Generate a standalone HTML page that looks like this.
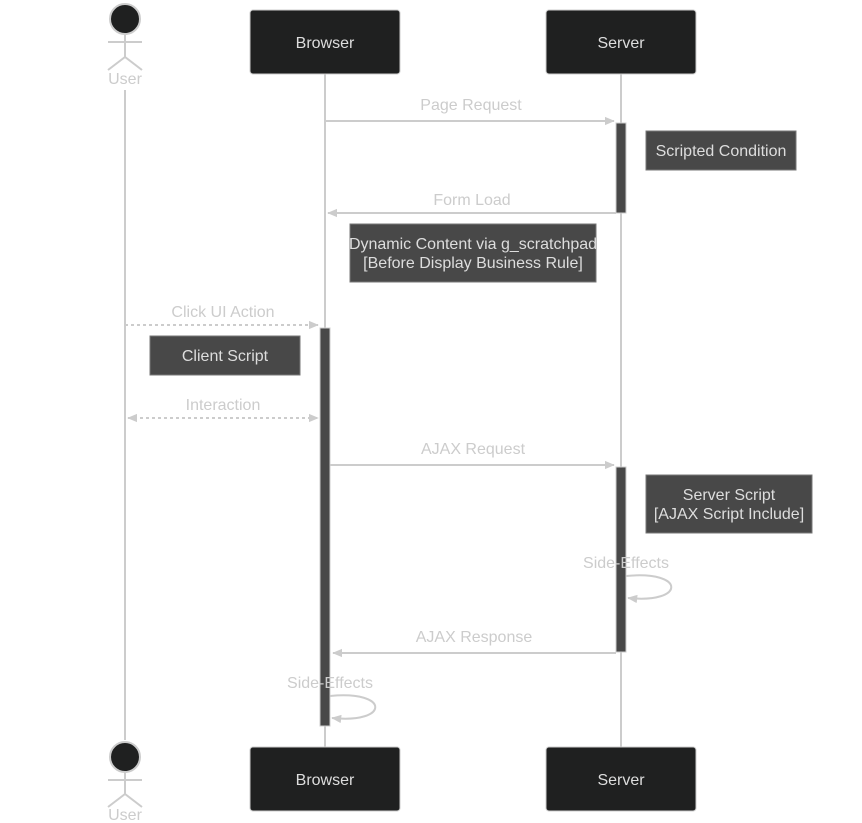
<!DOCTYPE html>
<html><head><style>body{margin:0;background:#fff}svg{display:block}text{font-family:"Liberation Sans",sans-serif;font-size:16px;text-anchor:middle;dominant-baseline:middle}</style></head><body>
<svg width="862" height="823" viewBox="0 0 862 823" xmlns="http://www.w3.org/2000/svg">
<defs><marker id="a" viewBox="0 0 12 12" refX="11" refY="6" markerWidth="10" markerHeight="10" markerUnits="userSpaceOnUse" orient="auto-start-reverse"><path d="M0,1 L12,6 L0,11 z" fill="#ccc"/></marker></defs>
<g stroke="#ccc" stroke-width="2" fill="none">
<line x1="125" y1="90" x2="125" y2="740"/>
<line x1="325" y1="74" x2="325" y2="748"/>
<line x1="621" y1="74" x2="621" y2="748"/>
</g>
<g stroke="#ccc" stroke-width="2" fill="none">
<circle cx="125" cy="19" r="15" fill="#1f2020"/>
<line x1="125" y1="34" x2="125" y2="57"/><line x1="108" y1="42" x2="142" y2="42"/>
<line x1="125" y1="57" x2="108" y2="70"/><line x1="125" y1="57" x2="142" y2="70"/>
<circle cx="125" cy="757" r="15" fill="#1f2020"/>
<line x1="125" y1="772" x2="125" y2="794"/><line x1="108" y1="780" x2="142" y2="780"/>
<line x1="125" y1="794" x2="108" y2="807"/><line x1="125" y1="794" x2="142" y2="807"/>
</g>
<g fill="#ccc"><text x="125" y="80">User</text><text x="125" y="816">User</text></g>
<g fill="#1f2020" stroke="#ccc" stroke-width="1">
<rect x="250" y="10" width="150" height="64" rx="3"/><rect x="546" y="10" width="150" height="64" rx="3"/>
<rect x="250" y="747" width="150" height="64" rx="3"/><rect x="546" y="747" width="150" height="64" rx="3"/>
</g>
<g fill="#ddd"><text x="325" y="44">Browser</text><text x="621" y="44">Server</text><text x="325" y="781">Browser</text><text x="621" y="781">Server</text></g>
<g fill="#484848" stroke="#ccc" stroke-width="1">
<rect x="616" y="123" width="10" height="90"/>
<rect x="320" y="328" width="10" height="398"/>
<rect x="616" y="467" width="10" height="185"/>
</g>
<g fill="#484848" stroke="#777" stroke-width="1">
<rect x="646" y="131" width="150" height="39"/>
<rect x="350" y="224" width="246" height="58"/>
<rect x="150" y="336" width="150" height="39"/>
<rect x="646" y="475" width="166" height="58"/>
</g>
<g fill="#ddd">
<text x="721" y="152">Scripted Condition</text>
<text x="473" y="245">Dynamic Content via g_scratchpad</text>
<text x="473" y="264">[Before Display Business Rule]</text>
<text x="225" y="357">Client Script</text>
<text x="729" y="496">Server Script</text>
<text x="729" y="515">[AJAX Script Include]</text>
</g>
<g stroke="#ccc" stroke-width="2" fill="none">
<line x1="325" y1="121" x2="614" y2="121" marker-end="url(#a)"/>
<line x1="616" y1="213" x2="328" y2="213" marker-end="url(#a)"/>
<line x1="125" y1="325" x2="318" y2="325" stroke-dasharray="3,3" marker-end="url(#a)"/>
<line x1="128" y1="418" x2="318" y2="418" stroke-dasharray="3,3" marker-start="url(#a)" marker-end="url(#a)"/>
<line x1="330" y1="465" x2="614" y2="465" marker-end="url(#a)"/>
<path d="M626,576 C686,570 686,604 628,598" marker-end="url(#a)"/>
<line x1="616" y1="653" x2="333" y2="653" marker-end="url(#a)"/>
<path d="M330,696 C390,690 390,724 332,718" marker-end="url(#a)"/>
</g>
<g fill="#ccc">
<text x="471" y="106">Page Request</text>
<text x="472" y="201">Form Load</text>
<text x="223" y="313">Click UI Action</text>
<text x="223" y="406">Interaction</text>
<text x="473" y="450">AJAX Request</text>
<text x="626" y="564">Side-Effects</text>
<text x="474" y="638">AJAX Response</text>
<text x="330" y="684">Side-Effects</text>
</g>
</svg>
</body></html>
